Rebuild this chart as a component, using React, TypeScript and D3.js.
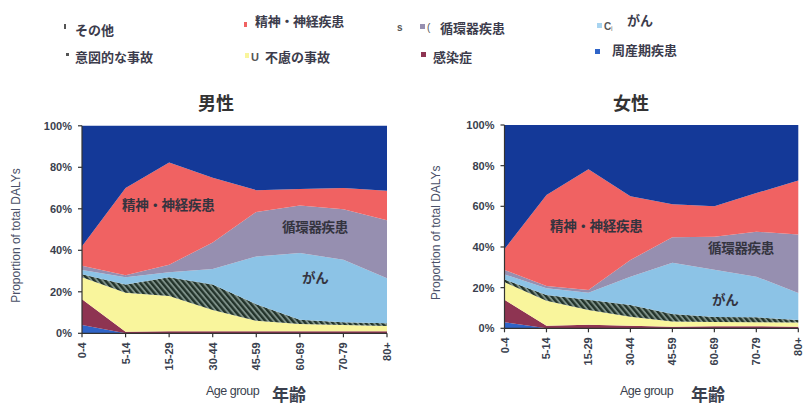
import React from "react";
import * as d3 from "d3";

// ---- data ----
const AGE_GROUPS = ["0-4", "5-14", "15-29", "30-44", "45-59", "60-69", "70-79", "80+"];
const Y_TICKS = [0, 20, 40, 60, 80, 100];
const SERIES_KEYS = ["perinatal", "infectious", "unintentional", "intentional", "cancer", "cardio", "neuro", "other"];

// Male (% of total DALYs)
const MALE_PERINATAL = [4, 0, 0, 0, 0, 0, 0, 0];
const MALE_INFECTIOUS = [12.4, 0.8, 1, 1, 1, 1, 1, 1];
const MALE_UNINTENTIONAL = [10.6, 18.8, 17, 10.2, 5, 3.5, 3, 2.5];
const MALE_INTENTIONAL = [1.5, 3.9, 9, 12.3, 8, 2, 1.3, 1.3];
const MALE_CANCER = [2, 3.5, 2.4, 7.5, 23, 32.2, 30.2, 21.7];
const MALE_CARDIO = [2, 1, 3.6, 12.8, 21.5, 22.9, 24.3, 28];
const MALE_NEURO = [9.5, 42, 49.3, 31.2, 10.5, 7.9, 10.2, 14.2];
const MALE_OTHER = [58, 30, 17.7, 25, 31, 30.5, 30, 31.3];

// Female (% of total DALYs)
const FEMALE_PERINATAL = [3, 0, 0, 0, 0, 0, 0, 0];
const FEMALE_INFECTIOUS = [11, 1.2, 1.8, 1.3, 0.8, 1, 1, 0.8];
const FEMALE_UNINTENTIONAL = [8.7, 12.3, 7.2, 4.4, 2.5, 2.1, 2, 2];
const FEMALE_INTENTIONAL = [1.3, 2.9, 5, 5.8, 3.7, 2.4, 2.4, 1.3];
const FEMALE_CANCER = [2.5, 3.3, 3.5, 13.9, 25.2, 23.3, 20, 13.3];
const FEMALE_CARDIO = [2.2, 1.1, 1.4, 8.2, 12.6, 16.2, 22.1, 28.7];
const FEMALE_NEURO = [10.3, 44.8, 59.3, 31.4, 16.2, 15, 19, 26.6];
const FEMALE_OTHER = [61, 34.4, 21.8, 35, 39, 40, 33.5, 27.3];

const COLORS: Record<string, string> = {
  perinatal: "#2f64c8",
  infectious: "#8e3452",
  unintentional: "#f9f59c",
  intentional: "url(#hatch)",
  cancer: "#8cc3e6",
  cardio: "#968fb0",
  neuro: "#f06262",
  other: "#143998",
};

const JP = "'Noto Sans CJK JP', sans-serif";
const EN = "'Liberation Sans', Arial, sans-serif";
const TEXT = "#3a3f4e";

function buildRows(series: number[][]) {
  return AGE_GROUPS.map((age, i) => {
    const row: Record<string, any> = { age };
    SERIES_KEYS.forEach((k, j) => (row[k] = series[j][i]));
    return row;
  });
}

const MALE_ROWS = buildRows([MALE_PERINATAL, MALE_INFECTIOUS, MALE_UNINTENTIONAL, MALE_INTENTIONAL, MALE_CANCER, MALE_CARDIO, MALE_NEURO, MALE_OTHER]);
const FEMALE_ROWS = buildRows([FEMALE_PERINATAL, FEMALE_INFECTIOUS, FEMALE_UNINTENTIONAL, FEMALE_INTENTIONAL, FEMALE_CANCER, FEMALE_CARDIO, FEMALE_NEURO, FEMALE_OTHER]);

type ChartProps = {
  rows: Record<string, any>[];
  x0: number; x1: number; yBottom: number; yTop: number;
  title: string; titleX: number;
  ylabelX: number;
  labels: { text: string; x: number; y: number }[];
  ageLabelX: number; nenreiX: number;
};

function Chart(p: ChartProps) {
  const x = d3.scalePoint<string>().domain(AGE_GROUPS).range([p.x0, p.x1]).padding(0);
  const y = d3.scaleLinear().domain([0, 100]).range([p.yBottom, p.yTop]);
  const stacked = d3.stack<Record<string, any>>().keys(SERIES_KEYS)(p.rows);
  const area = d3
    .area<any>()
    .x((d) => x(d.data.age) as number)
    .y0((d) => y(d[0]))
    .y1((d) => y(Math.min(100, d[1])));
  return (
    <g>
      <text x={p.titleX} y={110} textAnchor="middle" fontFamily={JP} fontWeight="bold" fontSize={18} fill="#333">
        {p.title}
      </text>
      {stacked.map((s) => (
        <path key={s.key} d={area(s as any) || ""} fill={COLORS[s.key]} stroke="none" />
      ))}
      {/* y axis */}
      <line x1={p.x0} x2={p.x0} y1={y(0)} y2={y(100)} stroke="#333" strokeWidth={1.2} />
      {Y_TICKS.map((t) => (
        <g key={t}>
          <line x1={p.x0 - 4} x2={p.x0} y1={y(t)} y2={y(t)} stroke="#333" strokeWidth={1.2} />
          <text x={p.x0 - 10} y={y(t) + 4} textAnchor="end" fontFamily={EN} fontWeight="bold" fontSize={11} fill={TEXT}>
            {t + "%"}
          </text>
        </g>
      ))}
      <text
        transform={`translate(${p.ylabelX},${(y(0) + y(100)) / 2 + 6}) rotate(-90)`}
        textAnchor="middle"
        fontFamily={EN}
        fontSize={12}
        fill="#4a5068"
      >
        Proportion of total DALYs
      </text>
      {/* x axis */}
      <line x1={p.x0} x2={p.x1} y1={y(0)} y2={y(0)} stroke="#333" strokeWidth={1.2} />
      {AGE_GROUPS.map((a) => (
        <g key={a}>
          <line x1={x(a)} x2={x(a)} y1={y(0)} y2={y(0) + 4} stroke="#333" strokeWidth={1.2} />
          <text
            transform={`translate(${(x(a) as number) + 4},${y(0) + 9}) rotate(-90)`}
            textAnchor="end"
            fontFamily={EN}
            fontWeight="bold"
            fontSize={11}
            fill={TEXT}
          >
            {a}
          </text>
        </g>
      ))}
      <text x={p.ageLabelX} y={395} fontFamily={EN} fontSize={12.5} fill={TEXT} letterSpacing={-0.5}>
        Age group
      </text>
      <text x={p.nenreiX} y={401} fontFamily={JP} fontWeight="bold" fontSize={17} fill={TEXT}>
        年齢
      </text>
      {p.labels.map((l) => (
        <text key={l.text} x={l.x} y={l.y} fontFamily={JP} fontWeight="bold" fontSize={13.5} fill="#34343f" letterSpacing={-0.3}>
          {l.text}
        </text>
      ))}
    </g>
  );
}

const LEGEND_TEXT = { fontFamily: JP, fontWeight: "bold" as const, fontSize: 13, fill: "#3c3c4c" };

export default function App() {
  return (
    <svg
      width={804}
      height={407}
      viewBox="0 0 804 407"
      style={{ position: "absolute", left: 0, top: 0, background: "#fff", display: "block" }}
    >
      <defs>
        <pattern id="hatch" width={4.2} height={4.2} patternUnits="userSpaceOnUse" patternTransform="rotate(-40)">
          <rect width={4.2} height={4.2} fill="#7d9088" />
          <rect width={2.3} height={4.2} fill="#22332a" />
        </pattern>
      </defs>
      <rect width={804} height={407} fill="#fff" />

      {/* legend */}
      <rect x={64} y={24} width={2} height={5} fill="#555" />
      <text x={75} y={35} {...LEGEND_TEXT}>その他</text>
      <rect x={66} y={53} width={3} height={3} fill="#555" />
      <text x={75} y={62} {...LEGEND_TEXT}>意図的な事故</text>

      <rect x={244} y={22} width={3} height={5} fill="#f06262" />
      <text x={255} y={26} {...LEGEND_TEXT} letterSpacing={-0.3}>精神・神経疾患</text>
      <rect x={245} y={53} width={4} height={5} fill="#f9f59c" />
      <text x={251} y={61} fontFamily={EN} fontWeight="bold" fontSize={11} fill="#555">U</text>
      <text x={265} y={62} {...LEGEND_TEXT}>不慮の事故</text>

      <text x={397} y={31} fontFamily={EN} fontWeight="bold" fontSize={10} fill="#555">s</text>
      <rect x={420} y={24} width={5} height={5} fill="#968fb0" />
      <text x={427} y={31} fontFamily={EN} fontSize={10} fill="#555">(</text>
      <text x={440} y={33} {...LEGEND_TEXT}>循環器疾患</text>
      <rect x={421} y={52} width={5} height={5} fill="#8e3452" />
      <text x={433} y={62} {...LEGEND_TEXT}>感染症</text>

      <rect x={597} y={23} width={5} height={5} fill="#a8d4f0" />
      <text x={604} y={30} fontFamily={EN} fontWeight="bold" fontSize={10} fill="#555">C</text>
      <text x={611} y={31} fontFamily={EN} fontSize={7} fill="#777">i</text>
      <text x={627} y={25} {...LEGEND_TEXT}>がん</text>
      <rect x={595} y={49} width={5} height={5} fill="#2f64c8" />
      <text x={612} y={55} {...LEGEND_TEXT}>周産期疾患</text>

      <Chart
        rows={MALE_ROWS}
        x0={82}
        x1={387}
        yBottom={333.3}
        yTop={125.8}
        title="男性"
        titleX={216}
        ylabelX={20}
        labels={[
          { text: "精神・神経疾患", x: 122, y: 210 },
          { text: "循環器疾患", x: 282, y: 232 },
          { text: "がん", x: 302, y: 283 },
        ]}
        ageLabelX={206}
        nenreiX={272}
      />
      <Chart
        rows={FEMALE_ROWS}
        x0={504.5}
        x1={798.3}
        yBottom={328.3}
        yTop={125}
        title="女性"
        titleX={631}
        ylabelX={440}
        labels={[
          { text: "精神・神経疾患", x: 550, y: 231 },
          { text: "循環器疾患", x: 708, y: 253 },
          { text: "がん", x: 712, y: 305 },
        ]}
        ageLabelX={620}
        nenreiX={691}
      />
    </svg>
  );
}
